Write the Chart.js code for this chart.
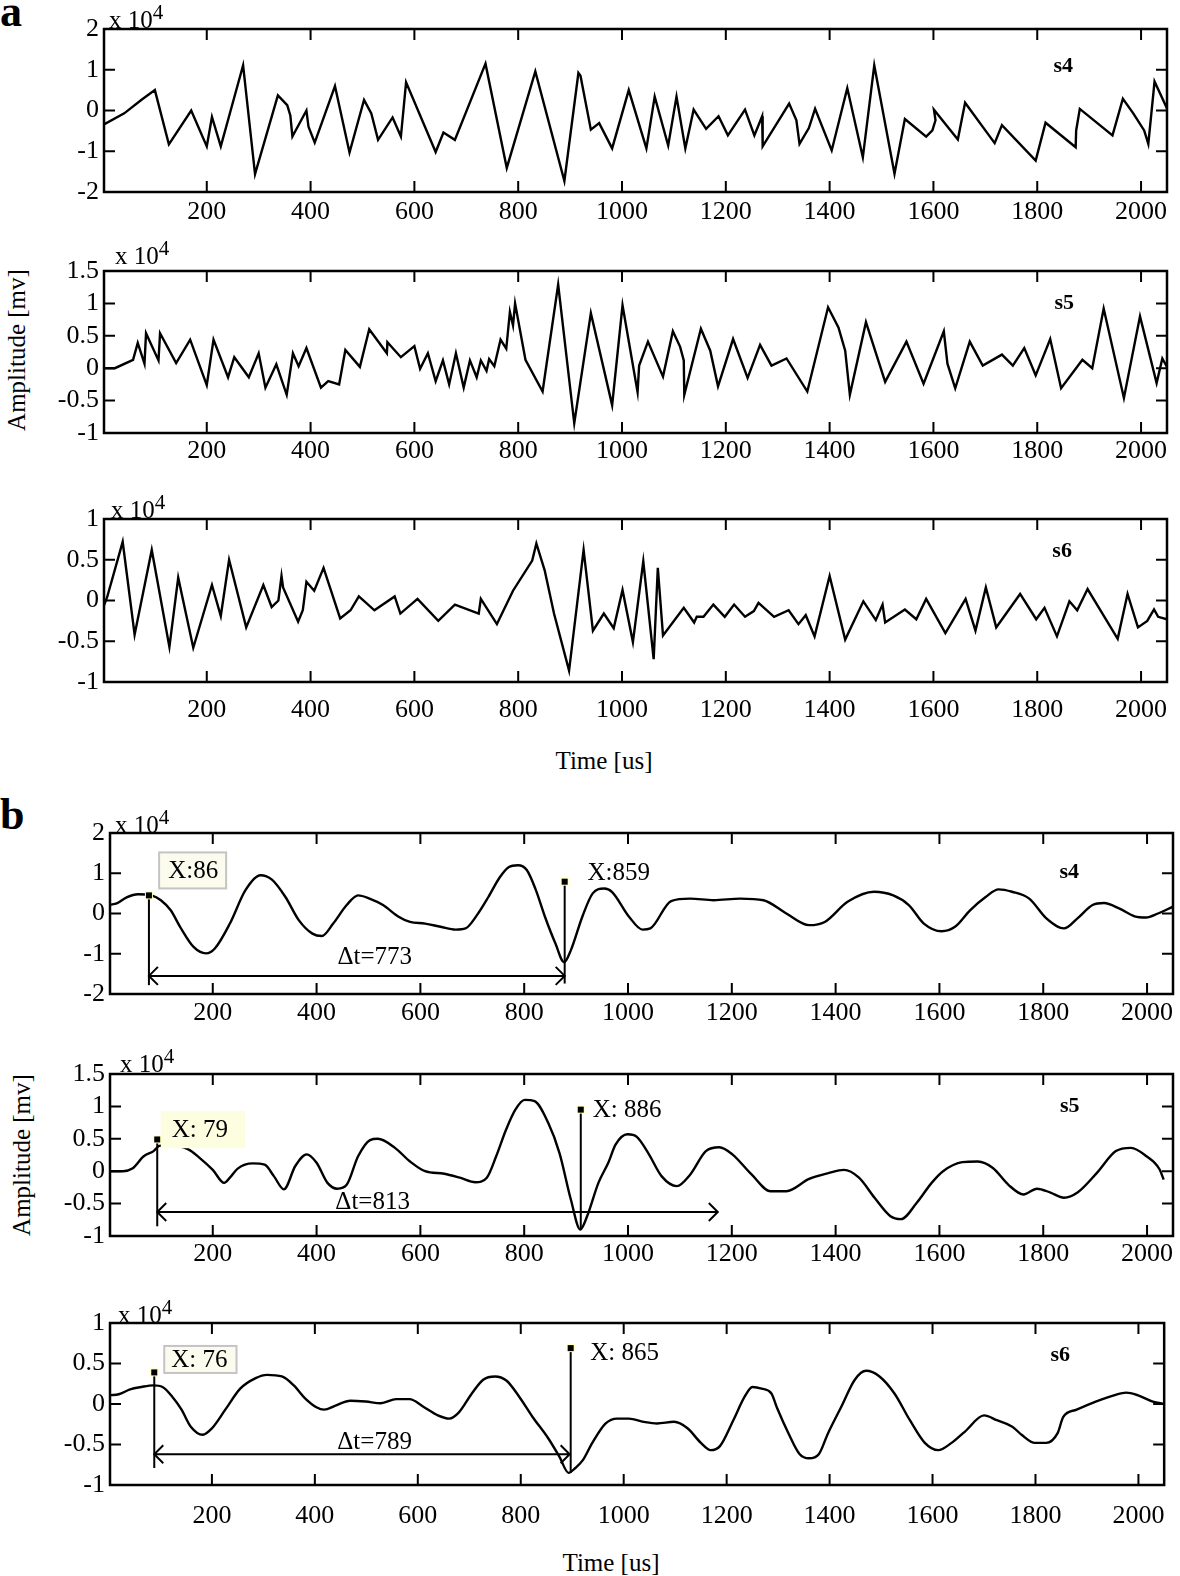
<!DOCTYPE html>
<html>
<head>
<meta charset="utf-8">
<script src="https://cdn.jsdelivr.net/npm/chart.js@4.4.1/dist/chart.umd.min.js"></script>
<style>
  html, body { margin: 0; padding: 0; background: #fff; }
  body { position: relative; width: 1180px; height: 1576px; overflow: hidden;
         font-family: "Liberation Serif", "Times New Roman", serif; color: #000; }
  .lbl { position: absolute; white-space: nowrap; line-height: 1; }
  .big { font-weight: bold; font-size: 44px; }
  .axis { font-size: 25px; }
  .rot { transform: translate(-50%, -50%) rotate(-90deg); }
  .ctr { transform: translate(-50%, -50%); }
</style>
</head>
<body>
<div class="lbl big" style="left:0;top:-10px">a</div>
<div class="lbl big" style="left:0;top:793px">b</div>
<div class="lbl axis rot" style="left:16px;top:350px">Amplitude [mv]</div>
<div class="lbl axis rot" style="left:21px;top:1155px">Amplitude [mv]</div>
<div class="lbl axis ctr" style="left:604px;top:760px">Time [us]</div>
<div class="lbl axis ctr" style="left:611px;top:1562px">Time [us]</div>
<script>
const SERIF = '"Liberation Serif", "Times New Roman", serif';

// axis ticks
const timeTicks = [200, 400, 600, 800, 1000, 1200, 1400, 1600, 1800, 2000];
const ampTicks2 = [-2, -1, 0, 1, 2];
const ampTicks15 = [-1, -0.5, 0, 0.5, 1, 1.5];
const ampTicks1 = [-1, -0.5, 0, 0.5, 1];

// (a) raw signals, amplitude in units of 10^4 mv
const aS4Time = [2,41,75,100,127,170,200,210,227,270,293,337,355,361,365,392,396,408,447,475,503,517,530,558,574,584,641,656,678,737,778,833,889,916,920,940,956,981,1013,1047,1063,1089,1105,1122,1138,1162,1186,1204,1237,1255,1270,1271,1322,1336,1342,1360,1372,1404,1434,1464,1486,1525,1545,1586,1598,1604,1601,1647,1661,1718,1732,1797,1816,1874,1875,1882,1945,1965,1985,2006,2014,2026,2050];
const aS4Amp = [-0.34,-0.07,0.27,0.50,-0.83,0,-0.88,-0.16,-0.88,1.11,-1.56,0.37,0.13,-0.12,-0.64,0,-0.40,-0.79,0.6,-1.03,0.26,-0.07,-0.72,-0.17,-0.64,0.69,-1.02,-0.54,-0.72,1.15,-1.41,0.96,-1.73,0.92,0.85,-0.47,-0.31,-0.93,0.5,-0.93,0.34,-0.86,0.34,-0.93,0.02,-0.45,-0.14,-0.61,0.02,-0.61,-0.14,-0.88,0.17,-0.24,-0.82,-0.43,0.04,-0.98,0.55,-1.15,1.11,-1.55,-0.21,-0.64,-0.49,-0.24,0.02,-0.71,0.19,-0.8,-0.36,-1.23,-0.3,-0.9,-0.49,0.04,-0.61,0.29,-0.07,-0.49,-0.82,0.71,0.05];

const aS5Time = [4,23,58,67,80,83,107,110,141,168,200,213,241,253,281,300,313,334,354,366,377,392,420,434,455,467,495,513,547,548,574,600,611,626,641,655,667,680,695,707,720,728,739,744,754,766,777,784,790,794,814,847,877,908,940,981,1001,1030,1033,1050,1079,1098,1112,1119,1120,1152,1170,1185,1214,1242,1266,1288,1317,1357,1397,1417,1430,1439,1470,1507,1548,1581,1620,1627,1642,1670,1695,1732,1753,1775,1797,1825,1846,1887,1906,1928,1967,1998,2030,2041,2050];
const aS5Amp = [0,0,0.13,0.39,0.07,0.54,0.12,0.54,0.08,0.44,-0.26,0.44,-0.14,0.17,-0.14,0.23,-0.3,0.06,-0.41,0.23,0.03,0.31,-0.3,-0.2,-0.25,0.28,0.02,0.6,0.23,0.4,0.17,0.34,-0.01,0.23,-0.2,0.12,-0.25,0.23,-0.3,0.12,-0.14,0.12,-0.04,0.14,0.03,0.44,0.3,0.87,0.66,1.0,0.13,-0.36,1.29,-0.85,0.85,-0.57,0.97,-0.37,0.04,0.41,-0.13,0.57,0.33,0.12,-0.41,0.61,0.27,-0.28,0.45,-0.15,0.36,0.04,0.15,-0.36,0.94,0.63,0.27,-0.41,0.71,-0.21,0.41,-0.24,0.57,0.07,-0.31,0.41,0.04,0.21,0.04,0.31,-0.11,0.45,-0.31,0.13,0,0.92,-0.46,0.8,-0.23,0.15,0.02];

const aS6Time = [2,8,38,61,94,128,145,174,210,227,243,276,309,325,338,344,347,376,385,392,407,425,457,477,493,523,562,573,606,646,678,724,728,759,790,827,835,851,869,898,926,944,965,984,1001,1021,1041,1061,1069,1079,1119,1139,1144,1157,1176,1198,1216,1237,1254,1263,1293,1321,1340,1354,1371,1400,1430,1465,1489,1502,1507,1545,1567,1586,1623,1662,1681,1701,1721,1767,1798,1814,1838,1862,1877,1897,1955,1974,1994,2012,2025,2033,2050];
const aS6Amp = [-0.06,0.04,0.72,-0.42,0.62,-0.57,0.28,-0.58,0.19,-0.19,0.5,-0.33,0.19,-0.08,0,0.3,0.16,-0.26,-0.12,0.23,0.12,0.4,-0.22,-0.12,0.05,-0.12,0.05,-0.16,0.02,-0.25,-0.05,-0.16,0.02,-0.29,0.12,0.49,0.7,0.37,-0.16,-0.86,0.62,-0.37,-0.16,-0.34,0.13,-0.51,0.48,-0.72,0.4,-0.43,-0.09,-0.27,-0.2,-0.2,-0.05,-0.2,-0.05,-0.2,-0.13,-0.03,-0.2,-0.12,-0.29,-0.18,-0.44,0.3,-0.48,-0.01,-0.24,-0.05,-0.27,-0.11,-0.23,0.02,-0.4,0.02,-0.37,0.16,-0.33,0.08,-0.23,-0.09,-0.44,-0.01,-0.12,0.14,-0.47,0.08,-0.33,-0.25,-0.11,-0.2,-0.23];

// (b) filtered signals
const bS4Time = [2,15,34,56,82,100,119,137,163,187,204,233,263,292,314,340,366,392,410,432,458,480,502,528,558,580,609,639,668,687,709,731,753,770,788,805,822,840,860,877,890,912,932,954,969,1002,1028,1043,1083,1120,1165,1216,1261,1305,1349,1379,1423,1474,1511,1541,1570,1604,1630,1659,1689,1714,1740,1773,1806,1840,1866,1895,1917,1947,1976,1998,2021,2050];
const bS4Amp = [0.22,0.25,0.4,0.48,0.45,0.33,0.08,-0.33,-0.83,-0.99,-0.87,-0.25,0.58,0.95,0.84,0.41,-0.17,-0.5,-0.56,-0.25,0.21,0.45,0.37,0.21,-0.08,-0.21,-0.25,-0.33,-0.4,-0.37,-0.04,0.41,0.9,1.15,1.2,1.08,0.6,-0.08,-0.74,-1.21,-0.91,-0.08,0.5,0.62,0.54,-0.08,-0.4,-0.37,0.31,0.37,0.33,0.37,0.33,0,-0.29,-0.21,0.29,0.54,0.45,0.21,-0.25,-0.44,-0.33,0.08,0.41,0.6,0.54,0.37,-0.12,-0.37,-0.12,0.21,0.26,0.12,-0.07,-0.1,0,0.17];

const bS5Time = [2,27,45,67,86,97,115,152,174,200,222,233,248,277,300,318,337,359,381,400,421,440,458,480,503,518,551,580,609,646,676,706,728,746,765,783,801,820,846,868,890,908,921,943,962,976,999,1017,1039,1065,1094,1120,1150,1176,1201,1238,1275,1305,1349,1386,1416,1445,1475,1505,1526,1556,1585,1607,1644,1674,1703,1733,1762,1788,1814,1840,1866,1903,1940,1969,1999,2024,2032];
const bS5Amp = [0,0,0.04,0.23,0.31,0.39,0.4,0.34,0.21,0.02,-0.18,-0.1,0.04,0.12,0.1,-0.08,-0.28,0.08,0.26,0.13,-0.18,-0.27,-0.21,0.23,0.48,0.5,0.36,0.15,0,-0.04,-0.1,-0.17,-0.1,0.23,0.64,0.95,1.1,1.08,0.75,0.28,-0.44,-0.9,-0.7,-0.18,0.13,0.41,0.57,0.53,0.28,-0.08,-0.23,-0.05,0.31,0.37,0.26,-0.05,-0.31,-0.31,-0.12,-0.03,0.02,-0.1,-0.41,-0.69,-0.74,-0.49,-0.18,0,0.14,0.15,0.05,-0.21,-0.36,-0.27,-0.33,-0.41,-0.33,-0.03,0.31,0.36,0.23,0.03,-0.13];

const bS6Time = [2,19,41,63,86,104,123,141,159,182,200,226,255,285,307,336,359,381,403,418,440,469,499,528,558,584,610,639,661,679,705,727,750,772,797,823,853,875,893,906,921,939,965,987,1010,1039,1065,1098,1124,1150,1169,1187,1213,1235,1250,1268,1287,1298,1320,1342,1360,1379,1397,1423,1449,1471,1497,1526,1556,1585,1611,1637,1663,1700,1725,1755,1773,1799,1821,1843,1854,1880,1917,1954,1976,1998,2028,2050];
const bS6Amp = [0.11,0.12,0.18,0.21,0.23,0.21,0.09,-0.07,-0.28,-0.38,-0.3,-0.07,0.19,0.32,0.36,0.34,0.23,0.07,-0.04,-0.07,-0.02,0.04,0.03,0.01,0.06,0.06,-0.03,-0.14,-0.18,-0.11,0.13,0.3,0.34,0.29,0.09,-0.16,-0.42,-0.65,-0.85,-0.79,-0.69,-0.48,-0.24,-0.18,-0.18,-0.22,-0.24,-0.22,-0.3,-0.48,-0.57,-0.52,-0.2,0.09,0.21,0.19,0.13,-0.05,-0.36,-0.62,-0.67,-0.62,-0.36,-0.03,0.3,0.41,0.34,0.13,-0.2,-0.48,-0.57,-0.48,-0.34,-0.14,-0.2,-0.28,-0.38,-0.48,-0.48,-0.36,-0.16,-0.07,0.03,0.11,0.14,0.11,0.03,0];

// data tips: [time, amplitude] of each marker, and where its drop line ends
const bS4Tips = [[77, 0.45, -1.78], [878, 0.79, -1.74]];
const bS5Tips = [[93, 0.49, -0.85], [909, 0.95, -0.9]];
const bS6Tips = [[88, 0.39, -0.79], [897, 0.69, -0.85]];
// delta-t arrows: [from, to, amplitude]
const bS4Arrow = [77, 878, -1.55];
const bS5Arrow = [93, 1173, -0.63];
const bS6Arrow = [88, 895, -0.62];

const TICK_LEN = 11;
const PAD_T = 36, PAD_B = 56;

function frame(p) {
  return {
    id: 'frame',
    afterDatasetsDraw(chart) {
      const { ctx, chartArea: a, scales: { x, y } } = chart;
      ctx.save();
      ctx.strokeStyle = '#000';
      ctx.fillStyle = '#000';
      ctx.lineWidth = 2;
      ctx.beginPath();
      timeTicks.forEach(v => {
        const px = x.getPixelForValue(v);
        ctx.moveTo(px, a.bottom); ctx.lineTo(px, a.bottom - TICK_LEN);
        ctx.moveTo(px, a.top); ctx.lineTo(px, a.top + TICK_LEN);
      });
      p.ticks.slice(1, -1).forEach(v => {
        const py = y.getPixelForValue(v);
        ctx.moveTo(a.left, py); ctx.lineTo(a.left + TICK_LEN, py);
        ctx.moveTo(a.right, py); ctx.lineTo(a.right - TICK_LEN, py);
      });
      ctx.stroke();
      ctx.lineWidth = 2.5;
      ctx.strokeRect(a.left, a.top, a.width, a.height);

      // exponent label
      ctx.textAlign = 'left';
      ctx.textBaseline = 'alphabetic';
      ctx.font = '25px ' + SERIF;
      const ex = a.left + p.exp[0], ey = a.top + p.exp[1];
      ctx.fillText('x 10', ex, ey);
      const w = ctx.measureText('x 10').width;
      ctx.font = '21px ' + SERIF;
      ctx.fillText('4', ex + w, ey - 9);

      // sensor name
      ctx.font = 'bold 22px ' + SERIF;
      ctx.textAlign = 'center';
      ctx.textBaseline = 'middle';
      ctx.fillText(p.name, x.getPixelForValue(p.nameAt[0]), y.getPixelForValue(p.nameAt[1]));

      if (p.tips) drawTips(ctx, x, y, p);
      ctx.restore();
    }
  };
}

function drawTips(ctx, x, y, p) {
  // arrow
  const [a0, a1, av] = p.arrow;
  const ax0 = x.getPixelForValue(a0), ax1 = x.getPixelForValue(a1), ay = y.getPixelForValue(av);
  ctx.lineWidth = 2;
  ctx.beginPath();
  ctx.moveTo(ax0, ay); ctx.lineTo(ax1, ay);
  ctx.moveTo(ax0 + 9, ay - 9); ctx.lineTo(ax0, ay); ctx.lineTo(ax0 + 9, ay + 9);
  ctx.moveTo(ax1 - 9, ay - 9); ctx.lineTo(ax1, ay); ctx.lineTo(ax1 - 9, ay + 9);
  ctx.stroke();

  // drop lines and markers
  p.tips.forEach(([t, v, drop]) => {
    const px = x.getPixelForValue(t), py = y.getPixelForValue(v), pb = y.getPixelForValue(drop);
    ctx.beginPath(); ctx.moveTo(px, py); ctx.lineTo(px, pb); ctx.stroke();
    ctx.fillStyle = '#ffffb0'; ctx.fillRect(px - 4, py - 4, 8, 8);
    ctx.fillStyle = '#000'; ctx.fillRect(px - 3, py - 3, 6, 6);
  });

  // text labels
  ctx.font = '25px ' + SERIF;
  ctx.textBaseline = 'middle';
  p.labels.forEach(l => {
    const lx = x.getPixelForValue(l.t), ly = y.getPixelForValue(l.v);
    const tw = ctx.measureText(l.text).width;
    if (l.box) {
      const b = l.box;
      const bx = lx - (l.center ? tw / 2 : 0) - b.l;
      const bw = tw + b.l + b.r;
      ctx.fillStyle = b.fill;
      ctx.fillRect(bx, ly - b.h / 2, bw, b.h);
      if (b.stroke) {
        ctx.strokeStyle = b.stroke; ctx.lineWidth = 2;
        ctx.strokeRect(bx, ly - b.h / 2, bw, b.h);
        ctx.strokeStyle = '#000';
      }
    }
    ctx.fillStyle = '#000';
    ctx.textAlign = l.center ? 'center' : 'left';
    ctx.fillText(l.text, lx, ly + 1);
  });
}

const panels = [
  { t: aS4Time, v: aS4Amp, ticks: ampTicks2, name: 's4', nameAt: [1850, 1.08], rect: [104, 1167, 29, 192], gap: 20, exp: [5, -1] },
  { t: aS5Time, v: aS5Amp, ticks: ampTicks15, name: 's5', nameAt: [1852, 1.0], rect: [104, 1167, 271, 433], gap: 18, exp: [11, -7] },
  { t: aS6Time, v: aS6Amp, ticks: ampTicks1, name: 's6', nameAt: [1848, 0.6], rect: [104, 1167, 519, 682], gap: 28, exp: [7, -1] },
  { t: bS4Time, v: bS4Amp, ticks: ampTicks2, name: 's4', nameAt: [1850, 1.03], rect: [110, 1173, 833, 994], gap: 19, exp: [5, 0], smooth: true,
    tips: bS4Tips, arrow: bS4Arrow,
    labels: [
      { text: 'X:86', t: 114, v: 1.07, box: { fill: '#fcfcee', stroke: '#c4c4c4', l: 9, r: 8, h: 36 } },
      { text: 'X:859', t: 922, v: 1.03 },
      { text: 'Δt=773', t: 512, v: -1.07, center: true }
    ] },
  { t: bS5Time, v: bS5Amp, ticks: ampTicks15, name: 's5', nameAt: [1851, 1.0], rect: [110, 1173, 1074, 1236], gap: 18, exp: [10, -2], smooth: true,
    tips: bS5Tips, arrow: bS5Arrow,
    labels: [
      { text: 'X: 79', t: 121, v: 0.64, box: { fill: '#fdfde0', l: 11, r: 17, h: 37 } },
      { text: 'X: 886', t: 932, v: 0.95 },
      { text: 'Δt=813', t: 508, v: -0.46, center: true }
    ] },
  { t: bS6Time, v: bS6Amp, ticks: ampTicks1, name: 's6', nameAt: [1848, 0.6], rect: [110, 1173, 1323, 1485], gap: 31, exp: [8, 0], smooth: true,
    tips: bS6Tips, arrow: bS6Arrow,
    labels: [
      { text: 'X: 76', t: 121, v: 0.55, box: { fill: '#fcfcee', stroke: '#c4c4c4', l: 7, r: 9, h: 27 } },
      { text: 'X: 865', t: 935, v: 0.64 },
      { text: 'Δt=789', t: 516, v: -0.46, center: true }
    ] }
];

panels.forEach(p => {
  const [L, R, T, B] = p.rect;
  const H = (B - T) + PAD_T + PAD_B;
  const cv = document.createElement('canvas');
  cv.width = 1180; cv.height = H;
  cv.style.cssText = `position:absolute;left:0;top:${T - PAD_T}px;width:1180px;height:${H}px`;
  document.body.appendChild(cv);

  new Chart(cv, {
    type: 'line',
    data: {
      datasets: [{
        data: p.t.map((t, i) => ({ x: t, y: p.v[i] })),
        borderColor: '#000',
        borderWidth: 2.4,
        pointRadius: 0,
        fill: false,
        tension: 0,
        cubicInterpolationMode: p.smooth ? 'monotone' : 'default'
      }]
    },
    options: {
      responsive: false,
      animation: false,
      devicePixelRatio: 1,
      events: [],
      layout: { padding: { top: PAD_T, right: 1180 - R, left: 0, bottom: 0 } },
      plugins: { legend: { display: false }, tooltip: { enabled: false } },
      scales: {
        x: {
          type: 'linear', min: 2, max: 2050,
          grid: { display: false, drawTicks: false }, border: { display: false },
          afterBuildTicks: s => { s.ticks = timeTicks.map(v => ({ value: v })); },
          afterFit: s => { s.height = PAD_B; },
          ticks: { color: '#000', font: { family: SERIF, size: 26 }, padding: p.gap - 15.6,
                   maxRotation: 0, autoSkip: false, callback: v => String(v) }
        },
        y: {
          min: p.ticks[0], max: p.ticks[p.ticks.length - 1],
          grid: { display: false, drawTicks: false }, border: { display: false },
          afterBuildTicks: s => { s.ticks = p.ticks.map(v => ({ value: v })); },
          afterFit: s => { s.width = L; },
          ticks: { color: '#000', font: { family: SERIF, size: 26 }, padding: 5, autoSkip: false,
                   callback: v => String(v) }
        }
      }
    },
    plugins: [frame(p)]
  });
});
</script>
</body>
</html>
